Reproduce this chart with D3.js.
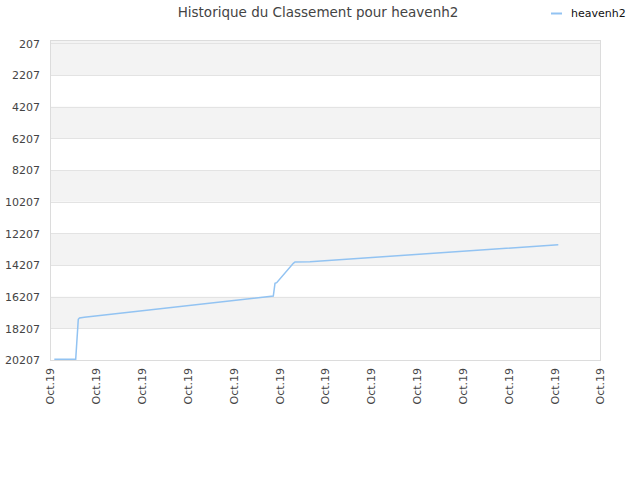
<!DOCTYPE html>
<html><head><meta charset="utf-8">
<script src="https://cdn.jsdelivr.net/npm/d3@7"></script>
<style>body{margin:0;background:#fff;}svg{display:block;font-family:"DejaVu Sans",sans-serif;}</style>
</head><body><svg id="c" width="640" height="480"></svg>
<script>
const title = "Historique du Classement pour heavenh2";
const seriesName = "heavenh2";
const xTickValues = [0,1,2,3,4,5,6,7,8,9,10,11,12];
const xTickLabels = ["Oct.19","Oct.19","Oct.19","Oct.19","Oct.19","Oct.19","Oct.19","Oct.19","Oct.19","Oct.19","Oct.19","Oct.19","Oct.19"];
const yTickValues = [207,2207,4207,6207,8207,10207,12207,14207,16207,18207,20207];
const xValues = [0.094,0.561,0.617,0.644,0.748,4.872,4.909,4.946,5.309,5.345,5.673,11.09];
const rankValues = [20165,20165,17639,17557,17513,16168,15365,15327,14102,14020,14001,12927];

const svg = d3.select("#c");
const L=50,R=600,T=40,B=360;
const x = d3.scaleLinear().domain([0,12]).range([L,R]);
const y = d3.scaleLinear().domain([207,20207]).range([43.3,B]);

// bands
for(let i=0;i<yTickValues.length-1;i++){
  if(i%2===0){
    const top = i===0 ? T : y(yTickValues[i]);
    svg.append("rect").attr("x",L).attr("width",R-L)
      .attr("y",top).attr("height",y(yTickValues[i+1])-top)
      .attr("fill","#f3f3f3");
  }
}
// grid
svg.append("g").selectAll("line").data(yTickValues).join("line")
  .attr("x1",L).attr("x2",R).attr("y1",d=>Math.round(y(d))+0.5).attr("y2",d=>Math.round(y(d))+0.5)
  .attr("stroke","#e3e3e3").attr("stroke-width",1);
// border
svg.append("rect").attr("x",L+0.5).attr("y",T+0.5).attr("width",R-L).attr("height",B-T)
  .attr("fill","none").attr("stroke","#dcdcdc");

// y axis
const yAxis = d3.axisLeft(y).tickValues(yTickValues).tickSize(0).tickPadding(10).tickFormat(d3.format("d"));
const gy = svg.append("g").attr("transform",`translate(${L},0)`).call(yAxis);
gy.select(".domain").remove();
gy.selectAll("text").attr("font-size","11px").attr("fill","#444").attr("font-family","DejaVu Sans").attr("dy","0.35em");

// x axis
const xAxis = d3.axisBottom(x).tickValues(xTickValues).tickSize(0).tickFormat((d,i)=>xTickLabels[i]);
const gx = svg.append("g").attr("transform",`translate(0,${B})`).call(xAxis);
gx.select(".domain").remove();
gx.selectAll("text").attr("font-size","11px").attr("fill","#444").attr("font-family","DejaVu Sans")
  .attr("text-anchor","end").attr("transform","rotate(-90)").attr("x",-8).attr("y",0).attr("dy","0.35em");

// line
const line = d3.line().x((d,i)=>x(xValues[i])).y(d=>y(d));
svg.append("path").datum(rankValues).attr("d",line).attr("fill","none")
  .attr("stroke","#92c3f2").attr("stroke-width",1.5);

// title
svg.append("text").attr("x",318).attr("y",17).attr("text-anchor","middle")
  .attr("font-size","13.5px").attr("fill","#444").text(title);
// legend
svg.append("line").attr("x1",551).attr("x2",562).attr("y1",13.5).attr("y2",13.5)
  .attr("stroke","#92c3f2").attr("stroke-width",2);
svg.append("text").attr("x",571).attr("y",17).attr("font-size","11px").attr("fill","#111").text(seriesName);
</script></body></html>
